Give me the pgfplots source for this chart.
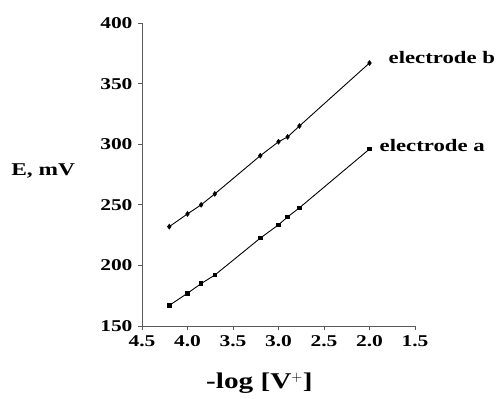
\documentclass[border=0pt]{standalone}
\usepackage{fontspec}
\setmainfont{Liberation Serif}[FakeStretch=1.3]
\usepackage{pgfplots}
\pgfplotsset{compat=1.18}
\begin{document}
\fontsize{16bp}{19bp}\selectfont
\begin{tikzpicture}
\useasboundingbox (0,0) rectangle (498bp,399bp);
\begin{axis}[
  at={(142bp,73bp)}, anchor=south west,
  scale only axis, width=273bp, height=303bp,
  axis lines=left, axis line style={gray!70!black, line width=0.9bp, -},
  x dir=reverse, xmin=1.5, xmax=4.5, ymin=150, ymax=400,
  xtick={1.5,2.0,...,4.5}, ytick={150,200,...,400},
  tick align=outside, major tick length=4bp,
  tick style={gray!70!black, line width=0.8bp},
  /pgf/number format/assume math mode=true,
  x tick label style={/pgf/number format/fixed, /pgf/number format/fixed zerofill, /pgf/number format/precision=1},
  y tick label style={/pgf/number format/fixed},
  ticklabel style={font=\fontsize{16.5bp}{19bp}\selectfont\bfseries},
  xlabel={-log [V$^{+}$]},
  ylabel={E, mV},
  xlabel style={font=\fontsize{22.5bp}{27bp}\selectfont\bfseries, at={(rel axis cs:0.43,-0.19)}, anchor=center},
  ylabel style={font=\fontsize{18bp}{21bp}\selectfont\bfseries, rotate=-90, at={(rel axis cs:-0.362,0.512)}, anchor=center},
  clip=false,
]
\addplot[black, line width=0.9bp, mark=square*, mark size=1.8bp] coordinates {
(4.2,167) (4.0,177) (3.85,185) (3.7,192) (3.2,222.5) (3.0,233.5) (2.9,240) (2.77,247.5) (2.0,296)
};
\addplot[black, line width=0.9bp, mark=diamond*, mark size=2.2bp] coordinates {
(4.2,232) (4.0,242.5) (3.85,250) (3.7,259) (3.2,290.5) (3.0,302) (2.9,306) (2.77,315) (2.0,367)
};
\node[anchor=base west, font=\fontsize{17.5bp}{20bp}\selectfont\bfseries, inner sep=0pt, xshift=19bp, yshift=-1bp] at (axis cs:2.0,367) {electrode b};
\node[anchor=base west, font=\fontsize{17.5bp}{20bp}\selectfont\bfseries, inner sep=0pt, xshift=10bp, yshift=-2bp] at (axis cs:2.0,296) {electrode a};
\end{axis}
\end{tikzpicture}
\end{document}
